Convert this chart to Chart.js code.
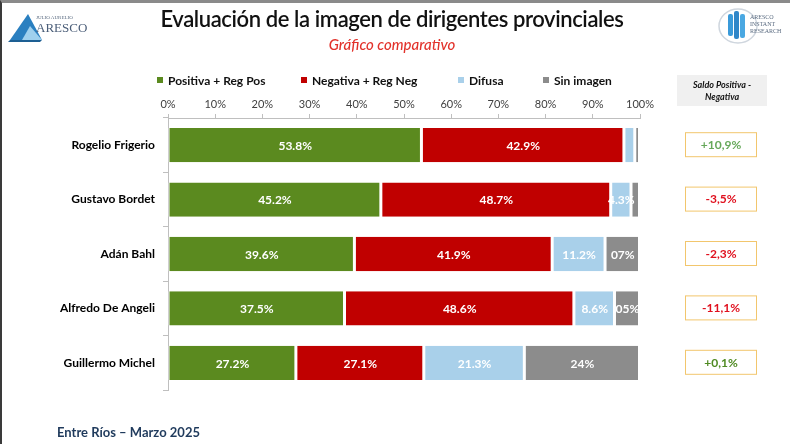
<!DOCTYPE html>
<html>
<head>
<meta charset="utf-8">
<script src="https://cdn.jsdelivr.net/npm/chart.js@4.4.1/dist/chart.umd.min.js"></script>
<style>
  html, body { margin: 0; padding: 0; background: #fff; }
  body { width: 790px; height: 444px; position: relative; overflow: hidden; font-family: Lato, "Open Sans", sans-serif; }
  #frame { position: absolute; left: 0; top: 0; width: 790px; height: 444px; box-sizing: border-box; border-top: 3px solid #8a8a8a; border-left: 2px solid #3a3a3a; pointer-events: none; }
  #chart { position: absolute; left: 0; top: 0; }
  .title { position: absolute; left: 0; width: 784px; text-align: center; }
  #t1 { top: 5px; font-size: 22px; font-weight: 600; color: #111; letter-spacing: -0.4px; }
  #t2 { top: 35px; font-size: 15px; font-weight: 500; font-style: italic; color: #e2322b; }
  #legend { position: absolute; top: 73px; left: 0; height: 16px; }
  .lg { position: absolute; top: 0; font-size: 12px; font-weight: bold; color: #111; white-space: nowrap; }
  .lg i { display: inline-block; width: 6px; height: 6px; margin-right: 5px; vertical-align: 2px; }
  #foot { position: absolute; left: 57px; top: 424px; font-size: 13px; font-weight: bold; color: #1f3a5c; }
  #logoL { position: absolute; left: 8px; top: 10px; }
  #logoR { position: absolute; left: 716px; top: 6px; }
</style>
</head>
<body>
<canvas id="chart" width="790" height="444"></canvas>
<div id="t1" class="title">Evaluación de la imagen de dirigentes provinciales</div>
<div id="t2" class="title">Gráfico comparativo</div>
<div id="legend"></div>
<div id="foot">Entre Ríos – Marzo 2025</div>
<svg id="logoL" width="80" height="32" viewBox="0 0 80 32">
  <polygon points="2,30 20,4 34,30" fill="#2a7fc0"/>
  <polygon points="14,30 22,16 34,30" fill="#9fd0ee"/>
  <polygon points="2,30 34,30 32,32 0,32" fill="#1d5f93"/>
  <text x="28" y="9" font-size="5" fill="#5a6b80" font-family="Liberation Serif">JULIO AURELIO</text>
  <text x="28" y="22" font-size="13" fill="#4a5d78" font-family="Liberation Serif">ARESCO</text>
</svg>
<svg id="logoR" width="70" height="40" viewBox="0 0 70 40">
  <ellipse cx="22" cy="20" rx="19" ry="17" fill="none" stroke="#cfd6de" stroke-width="1.5"/>
  <rect x="12" y="8" width="5" height="22" rx="2" fill="#3a9ad9"/>
  <rect x="18" y="5" width="5" height="28" rx="2" fill="#2f86c8"/>
  <rect x="24" y="8" width="5" height="24" rx="2" fill="#4aa8e2"/>
  <text x="34" y="13" font-size="6" fill="#5a6b80" font-family="Liberation Serif">ARESCO</text>
  <text x="34" y="20" font-size="6" fill="#5a6b80" font-family="Liberation Serif">INSTANT</text>
  <text x="34" y="27" font-size="6" fill="#5a6b80" font-family="Liberation Serif">RESEARCH</text>
</svg>
<div id="frame"></div>
<script>
// datos
const dirigentes = ['Rogelio Frigerio', 'Gustavo Bordet', 'Adán Bahl', 'Alfredo De Angeli', 'Guillermo Michel'];
const positiva = [53.8, 45.2, 39.6, 37.5, 27.2];
const negativa = [42.9, 48.7, 41.9, 48.6, 27.1];
const difusa = [2.3, 4.3, 11.2, 8.6, 21.3];
const sinImagen = [1.0, 1.8, 7.3, 5.3, 24.4];
const etiquetasDifusa = ['', '4.3%', '11.2%', '8.6%', '21.3%'];
const etiquetasSin = ['', '', '07%', '05%', '24%'];
const seriesNombres = ['Positiva + Reg Pos', 'Negativa + Reg Neg', 'Difusa', 'Sin imagen'];
const colores = ['#5b8a1f', '#c00000', '#a9d0ea', '#8c8c8c'];
const ticksX = [0, 10, 20, 30, 40, 50, 60, 70, 80, 90, 100];

// leyenda html
const legendPos = [157, 301, 458, 543];
const legend = document.getElementById('legend');
seriesNombres.forEach((n, i) => {
    const d = document.createElement('div');
    d.className = 'lg';
    d.style.left = legendPos[i] + 'px';
    d.innerHTML = '<i style="background:' + colores[i] + '"></i>' + n;
    legend.appendChild(d);
});

const fmt = v => v.toFixed(1) + '%';
const etiquetas = [positiva.map(fmt), negativa.map(fmt), etiquetasDifusa, etiquetasSin];

// etiquetas dentro de las barras
const barLabels = {
    id: 'barLabels',
    afterDatasetsDraw(chart) {
        const ctx = chart.ctx;
        ctx.save();
        ctx.font = 'bold 12px Lato, "Open Sans", sans-serif';
        ctx.fillStyle = '#fff';
        ctx.textAlign = 'center';
        ctx.textBaseline = 'middle';
        chart.data.datasets.forEach((ds, di) => {
            chart.getDatasetMeta(di).data.forEach((bar, i) => {
                const txt = etiquetas[di][i];
                if (!txt) return;
                ctx.fillText(txt, (bar.x + bar.base) / 2, bar.y + 1);
            });
        });
        ctx.restore();
    }
};

// cajas de saldo positiva - negativa
const saldoBoxes = {
    id: 'saldoBoxes',
    afterDraw(chart) {
        const ctx = chart.ctx;
        const y = chart.scales.y;
        ctx.save();
        // encabezado
        ctx.fillStyle = '#f0f0f0';
        ctx.fillRect(677, 75, 90, 31);
        ctx.fillStyle = '#111';
        ctx.font = 'italic bold 9px Lato, "Open Sans", sans-serif';
        ctx.textAlign = 'center';
        ctx.textBaseline = 'middle';
        ctx.fillText('Saldo Positiva -', 722, 85);
        ctx.fillText('Negativa', 722, 97);
        dirigentes.forEach((d, i) => {
            const saldo = positiva[i] - negativa[i];
            const cy = y.getPixelForValue(i);
            ctx.strokeStyle = '#f2c66d';
            ctx.lineWidth = 1;
            ctx.strokeRect(685.5, cy - 12.5, 71, 24);
            ctx.fillStyle = saldo >= 0 ? (i === 0 ? '#66a85a' : '#4f8a22') : '#e0101e';
            ctx.font = 'bold 12px Lato, "Open Sans", sans-serif';
            const s = (saldo >= 0 ? '+' : '') + saldo.toFixed(1).replace('.', ',') + '%';
            ctx.fillText(s, 721, cy);
        });
        ctx.restore();
    }
};

const datasets = [positiva, negativa, difusa, sinImagen].map((vals, i) => ({
    label: seriesNombres[i],
    data: vals,
    backgroundColor: colores[i],
    borderColor: '#ffffff',
    borderWidth: { left: 1, right: 2, top: 0, bottom: 0 },
    borderSkipped: false,
    barPercentage: 0.63,
    categoryPercentage: 1
}));

new Chart(document.getElementById('chart'), {
    type: 'bar',
    data: { labels: dirigentes, datasets: datasets },
    options: {
        indexAxis: 'y',
        responsive: false,
        animation: false,
        layout: { padding: { left: 0, right: 150, top: 0, bottom: 54 } },
        scales: {
            x: {
                position: 'top',
                stacked: true,
                min: 0,
                max: 100,
                afterBuildTicks: s => { s.ticks = ticksX.map(v => ({ value: v })); },
                afterFit: s => { s.height = 118; },
                ticks: {
                    callback: v => v + '%',
                    color: '#404040',
                    font: { size: 11, family: 'Lato' },
                    padding: 3
                },
                grid: { drawOnChartArea: false, drawTicks: true, tickLength: 4, color: '#bfbfbf' },
                border: { color: '#bfbfbf' }
            },
            y: {
                stacked: true,
                afterFit: s => { s.width = 168; },
                ticks: {
                    color: '#000',
                    font: { size: 12, weight: 'bold', family: 'Lato' },
                    padding: 8
                },
                grid: { offset: true, drawOnChartArea: false, drawTicks: true, tickLength: 5, color: '#bfbfbf' },
                border: { color: '#bfbfbf' }
            }
        },
        plugins: {
            legend: { display: false },
            tooltip: { enabled: false }
        }
    },
    plugins: [barLabels, saldoBoxes]
});
</script>
</body>
</html>
